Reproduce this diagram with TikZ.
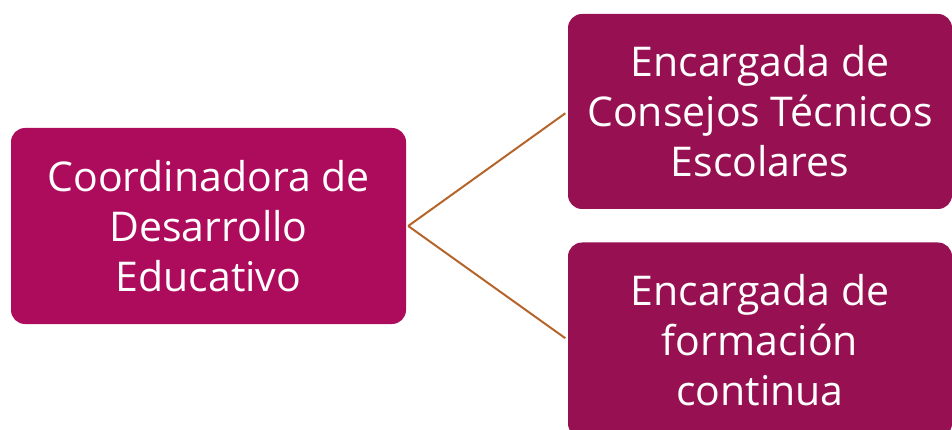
\documentclass[tikz,border=0pt]{standalone}
\usepackage{fontspec}
\setmainfont{Open Sans}
\usepackage{tikz}
\definecolor{magcoord}{RGB}{173,11,92}
\definecolor{magcargo}{RGB}{150,16,82}
\definecolor{cafe}{RGB}{182,101,42}
\tikzset{
	caja/.style={rectangle, rounded corners=14pt, inner sep=0pt, text=white, align=center,
		font=\fontsize{41}{50}\selectfont},
	coordbox/.style={caja, fill=magcoord, minimum width=395pt, minimum height=196pt},
	cargobox/.style={caja, fill=magcargo, minimum width=384pt, minimum height=195pt},
	enlace/.style={draw=cafe, line width=2pt}
}

\begin{document}
\begin{tikzpicture}[x=1pt,y=-1pt]
	\useasboundingbox (0,0) rectangle (952,430);
	\node[coordbox] (coord) at (208.5,226) {Coordinadora de\\Desarrollo\\Educativo};
	\node[cargobox] (consejos) at (760,111.5) {Encargada de\\Consejos Técnicos\\Escolares};
	\node[cargobox] (formacion) at (760,340) {Encargada de\\formación\\continua};
	% enlaces
	\draw[enlace, shorten >=3pt] ([xshift=2pt]coord.east) -- (consejos.west);
	\draw[enlace, shorten >=3pt] ([xshift=2pt]coord.east) -- (formacion.west);
\end{tikzpicture}
\end{document}
